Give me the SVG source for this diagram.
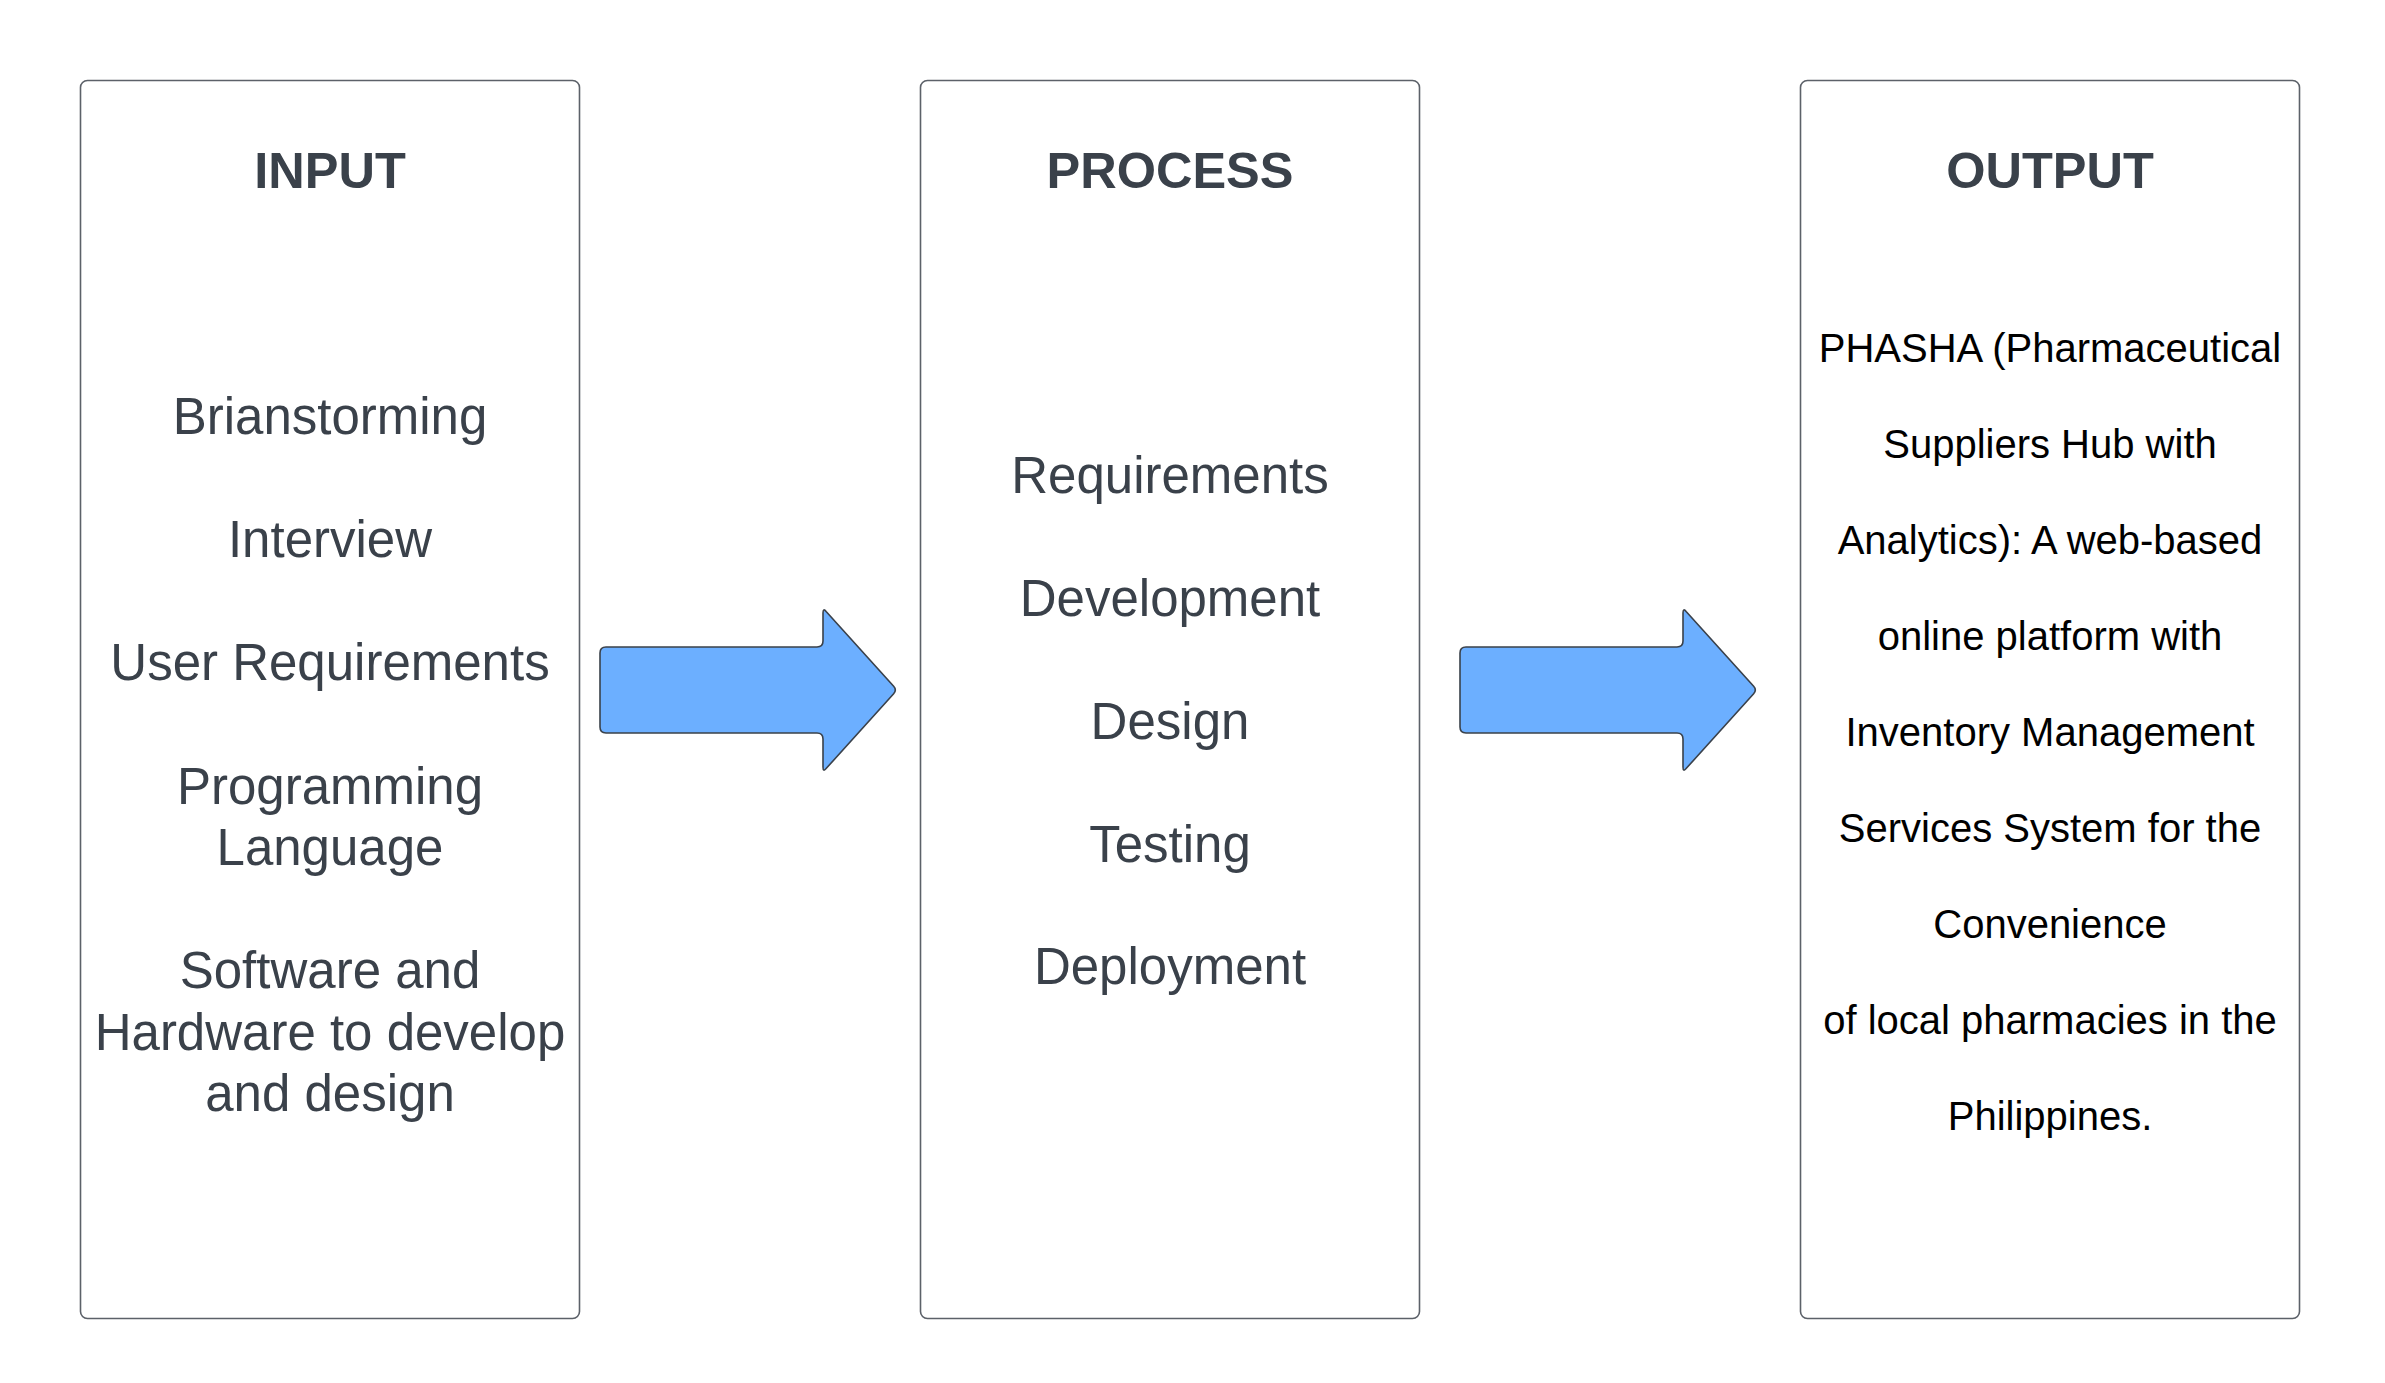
<svg xmlns="http://www.w3.org/2000/svg" width="2385" height="1383" viewBox="0 0 2385 1383">
  <style>
    .box { fill: #ffffff; stroke: #5c6169; stroke-width: 1.6; }
    .arrow { fill: #6cafff; stroke: #3a414a; stroke-width: 1.6; stroke-linejoin: round; }
    .title { font-family: "Liberation Sans", Arial, sans-serif; font-size: 50.5px; font-weight: bold; fill: #3a414a; text-anchor: middle; }
    .item { font-family: "Liberation Sans", Arial, sans-serif; font-size: 51px; fill: #3a414a; text-anchor: middle; }
    .out { font-family: "Liberation Sans", Arial, sans-serif; font-size: 40px; fill: #000000; text-anchor: middle; }
  </style>
  <defs>
    <path id="bigArrow" d="M606,647 L817,647 Q823,647 823,641 L823,613 Q823,607.5 826.35,611.7 L893.65,686.29 Q897,690 893.65,693.71 L826.35,768.3 Q823,772.5 823,767 L823,739 Q823,733 817,733 L606,733 Q600,733 600,727 L600,653 Q600,647 606,647 Z"/>
  </defs>
  <rect x="0" y="0" width="2385" height="1383" fill="#ffffff"/>

  <g id="input">
    <rect class="box" x="80.5" y="80.5" width="499" height="1238" rx="7"/>
    <text class="title" x="330" y="188">INPUT</text>
    <text class="item" x="330" y="434">Brianstorming</text>
    <text class="item" x="330" y="557">Interview</text>
    <text class="item" x="330" y="680">User Requirements</text>
    <text class="item" x="330" y="803.5">Programming</text>
    <text class="item" x="330" y="865">Language</text>
    <text class="item" x="330" y="988">Software and</text>
    <text class="item" x="330" y="1049.5">Hardware to develop</text>
    <text class="item" x="330" y="1111">and design</text>
  </g>

  <g id="process">
    <rect class="box" x="920.5" y="80.5" width="499" height="1238" rx="7"/>
    <text class="title" x="1170" y="188">PROCESS</text>
    <text class="item" x="1170" y="493">Requirements</text>
    <text class="item" x="1170" y="616">Development</text>
    <text class="item" x="1170" y="739">Design</text>
    <text class="item" x="1170" y="862">Testing</text>
    <text class="item" x="1170" y="984">Deployment</text>
  </g>

  <g id="output">
    <rect class="box" x="1800.5" y="80.5" width="499" height="1238" rx="7"/>
    <text class="title" x="2050" y="188">OUTPUT</text>
    <text class="out" x="2050" y="362">PHASHA (Pharmaceutical</text>
    <text class="out" x="2050" y="458">Suppliers Hub with</text>
    <text class="out" x="2050" y="554">Analytics): A web-based</text>
    <text class="out" x="2050" y="650">online platform with</text>
    <text class="out" x="2050" y="746">Inventory Management</text>
    <text class="out" x="2050" y="842">Services System for the</text>
    <text class="out" x="2050" y="938">Convenience</text>
    <text class="out" x="2050" y="1034">of local pharmacies in the</text>
    <text class="out" x="2050" y="1130">Philippines.</text>
  </g>

  <g id="connectors">
    <use href="#bigArrow" class="arrow"/>
    <use href="#bigArrow" class="arrow" transform="translate(860,0)"/>
  </g>
</svg>
